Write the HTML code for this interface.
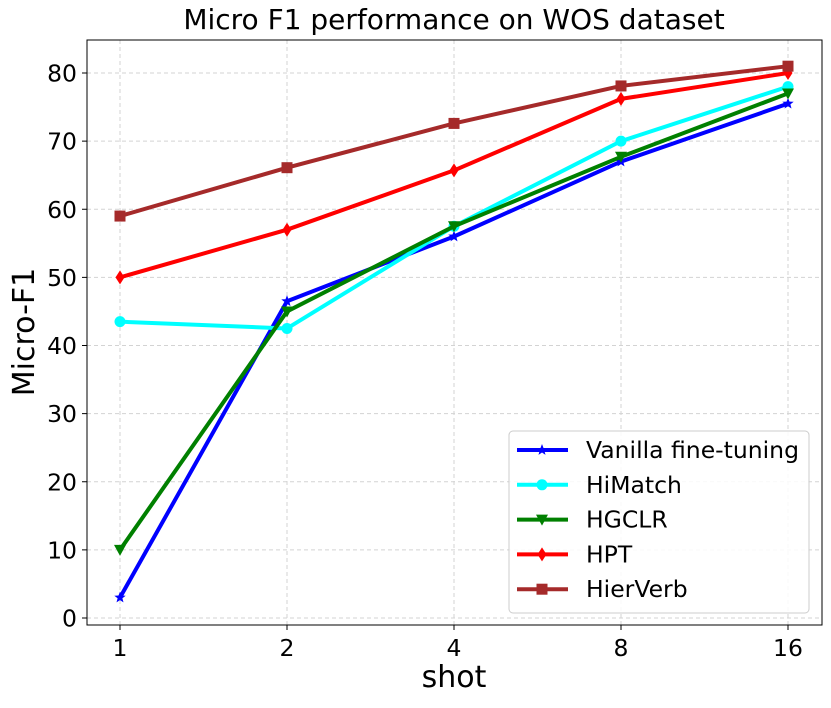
<!DOCTYPE html>
<html><head><meta charset="utf-8"><style>
body{margin:0;background:#fff;}
svg text{font-family:"DejaVu Sans","Liberation Sans",sans-serif;fill:#000;}
</style></head><body>
<svg id="chart" width="831" height="703" xmlns="http://www.w3.org/2000/svg"></svg>
<script>
const categories=["1","2","4","8","16"];
const yTicks=[0,10,20,30,40,50,60,70,80];
const seriesNames=["Vanilla fine-tuning","HiMatch","HGCLR","HPT","HierVerb"];
const vanilla=[3,46.5,56,67,75.5];
const himatch=[43.5,42.5,57.5,70,78];
const hgclr=[10,45,57.5,67.7,77];
const hpt=[50,57,65.7,76.2,80];
const hierverb=[59,66.1,72.6,78.1,81];
const seriesValues=[vanilla,himatch,hgclr,hpt,hierverb];
const colors=["#0000ff","#00ffff","#008000","#ff0000","#a52a2a"];
const markers=["star","circle","tri","diamond","square"];
const L=87,R=822,T=40,B=625;
const x=i=>120+i*167;
const y=v=>618-v*6.8125;
const NS="http://www.w3.org/2000/svg";
const svg=document.getElementById('chart');
function mk(t,a,p){const e=document.createElementNS(NS,t);for(const k in a)e.setAttribute(k,a[k]);(p||svg).appendChild(e);return e;}
yTicks.forEach(v=>{const g=mk('line',{x1:L,x2:R,y1:y(v),y2:y(v),stroke:'#d3d3d3','stroke-dasharray':'4,3','stroke-width':1});

const t=mk('text',{x:L-10,y:y(v)+8.5,'text-anchor':'end','font-size':23.5});t.textContent=v;

mk('line',{x1:L-5,x2:L,y1:y(v),y2:y(v),stroke:'#000'});});
categories.forEach((c,i)=>{const g=mk('line',{x1:x(i),x2:x(i),y1:T,y2:B,stroke:'#d3d3d3','stroke-dasharray':'4,3','stroke-width':1});

mk('line',{x1:x(i),x2:x(i),y1:B,y2:B+5,stroke:'#000'});
const t=mk('text',{x:x(i),y:B+31,'text-anchor':'middle','font-size':23.5});t.textContent=c;
});
const frame=mk('rect',{x:L,y:T,width:R-L,height:B-T,fill:'none',stroke:'#000','stroke-width':1});

function marker(type,cx,cy,c,p,s){s=s||1;
if(type==='circle')return mk('circle',{cx,cy,r:5.5*s,fill:c},p);
if(type==='square')return mk('rect',{x:cx-5.5*s,y:cy-5.5*s,width:11*s,height:11*s,fill:c},p);
if(type==='tri')return mk('polygon',{points:`${cx-6*s},${cy-5*s} ${cx+6*s},${cy-5*s} ${cx},${cy+6*s}`,fill:c},p);
if(type==='diamond')return mk('polygon',{points:`${cx},${cy-7*s} ${cx+4.5*s},${cy} ${cx},${cy+7*s} ${cx-4.5*s},${cy}`,fill:c},p);
let pts=[];for(let k=0;k<10;k++){const r=k%2?2.5*s:6*s,a=-Math.PI/2+k*Math.PI/5;pts.push((cx+r*Math.cos(a)).toFixed(1)+','+(cy+r*Math.sin(a)).toFixed(1));}
return mk('polygon',{points:pts.join(' '),fill:c},p);}
seriesValues.forEach((vals,si)=>{
const g=mk('g',{});
const line=mk('polyline',{points:vals.map((v,i)=>x(i)+','+y(v)).join(' '),fill:'none',stroke:colors[si],'stroke-width':4,'stroke-linejoin':'round'},g);

vals.forEach((v,i)=>{const m=marker(markers[si],x(i),y(v),colors[si],g);
});});
const lg=mk('g',{});
mk('rect',{x:509,y:431,width:300,height:182,rx:4,fill:'#fff','fill-opacity':0.85,stroke:'#ccc'},lg);
seriesNames.forEach((n,i)=>{const ey=450+i*34.8;
const e=mk('g',{},lg);
mk('line',{x1:517,x2:568,y1:ey,y2:ey,stroke:colors[i],'stroke-width':4},e);
marker(markers[i],542,ey,colors[i],e);
const t=mk('text',{x:586,y:ey+8,'font-size':23.5},e);t.textContent=n;});
const title=mk('text',{x:454,y:29,'text-anchor':'middle','font-size':28});title.textContent='Micro F1 performance on WOS dataset';

const xt=mk('text',{x:454,y:687,'text-anchor':'middle','font-size':30});xt.textContent='shot';

const yt=mk('text',{x:0,y:0,'text-anchor':'middle','font-size':30,transform:'translate(34,332) rotate(-90)'});yt.textContent='Micro-F1';

</script>
</body></html>
